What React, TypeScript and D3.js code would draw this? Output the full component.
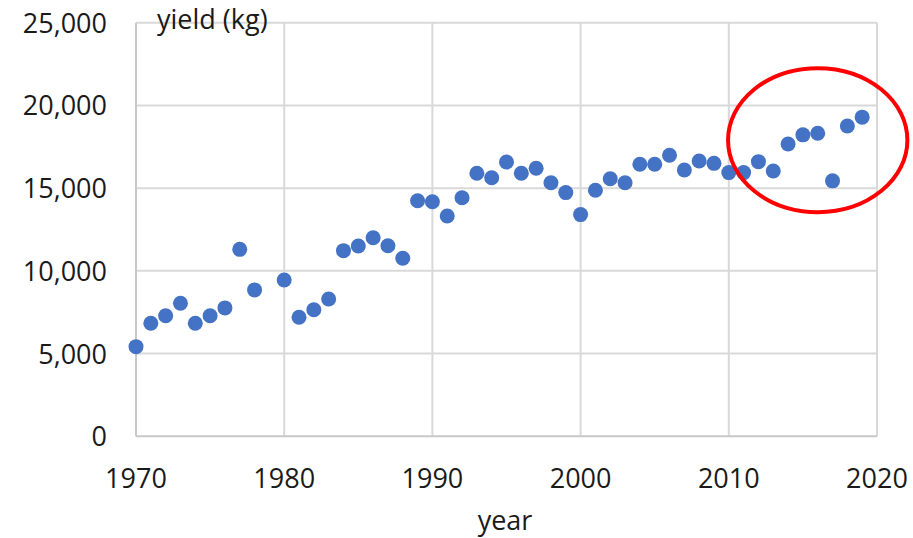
import { useEffect, useRef } from 'react'
import * as d3 from 'd3'

// yields (1979 has no point)
const years = [
  1970, 1971, 1972, 1973, 1974, 1975, 1976, 1977, 1978,
  1980, 1981, 1982, 1983, 1984, 1985, 1986, 1987, 1988, 1989,
  1990, 1991, 1992, 1993, 1994, 1995, 1996, 1997, 1998, 1999,
  2000, 2001, 2002, 2003, 2004, 2005, 2006, 2007, 2008, 2009,
  2010, 2011, 2012, 2013, 2014, 2015, 2016, 2017, 2018, 2019,
]
const yields = [
  5420, 6830, 7290, 8040, 6830, 7290, 7760, 11300, 8850,
  9450, 7200, 7650, 8300, 11220, 11500, 12000, 11520, 10760, 14240,
  14180, 13320, 14420, 15900, 15630, 16580, 15900, 16200, 15330, 14730,
  13400, 14870, 15570, 15330, 16440, 16440, 16990, 16100, 16640, 16500,
  15940, 15940, 16600, 16040, 17670, 18220, 18320, 15440, 18760, 19290,
]
const xTicks = [1970, 1980, 1990, 2000, 2010, 2020]
const yTicks = [0, 5000, 10000, 15000, 20000, 25000]

// red ring around the recent years, in data units
const ringCenter = { year: 2016, value: 17900 }
const ringRadius = { years: 6.05, value: 4350 }

export default function App() {
  const svgRef = useRef<SVGSVGElement>(null)

  useEffect(() => {
    if (!svgRef.current) return
    const svg = d3.select(svgRef.current)
    svg.selectAll('*').remove()

    const font = "'Open Sans', 'Noto Sans', sans-serif"
    const left = 136
    const right = 877
    const top = 22.7
    const bottom = 436.3

    const x = d3.scaleLinear().domain([1970, 2020]).range([left, right])
    const y = d3.scaleLinear().domain([0, 25000]).range([bottom, top])

    const g = svg.append('g')

    // gridlines
    g.selectAll('.hgrid')
      .data(yTicks.slice(1))
      .enter().append('line')
      .attr('x1', left).attr('x2', right)
      .attr('y1', d => y(d)).attr('y2', d => y(d))
      .attr('stroke', '#d9d9d9')
      .attr('stroke-width', 2)

    g.selectAll('.vgrid')
      .data(xTicks.slice(1))
      .enter().append('line')
      .attr('y1', top).attr('y2', bottom)
      .attr('x1', d => x(d)).attr('x2', d => x(d))
      .attr('stroke', '#d9d9d9')
      .attr('stroke-width', 2)

    // axes lines
    g.append('line')
      .attr('x1', left).attr('x2', right)
      .attr('y1', bottom).attr('y2', bottom)
      .attr('stroke', '#c8c8c8').attr('stroke-width', 2)
    g.append('line')
      .attr('x1', left).attr('x2', left)
      .attr('y1', top).attr('y2', bottom)
      .attr('stroke', '#c8c8c8').attr('stroke-width', 2)

    // tick labels
    g.selectAll('.ylab')
      .data(yTicks)
      .enter().append('text')
      .attr('x', 107)
      .attr('y', d => y(d) + 10)
      .attr('text-anchor', 'end')
      .style('font-family', font)
      .style('font-size', '27px')
      .style('fill', '#1a1a1a')
      .text(d => d3.format(',')(d))

    g.selectAll('.xlab')
      .data(xTicks)
      .enter().append('text')
      .attr('x', d => x(d))
      .attr('y', 488)
      .attr('text-anchor', 'middle')
      .style('font-family', font)
      .style('font-size', '27px')
      .style('fill', '#1a1a1a')
      .text(d => String(d))

    // axis titles
    g.append('text')
      .attr('x', 505)
      .attr('y', 530)
      .attr('text-anchor', 'middle')
      .style('font-family', font)
      .style('font-size', '27px')
      .style('fill', '#1a1a1a')
      .text('year')

    g.append('text')
      .attr('x', 157)
      .attr('y', 29)
      .style('font-family', font)
      .style('font-size', '27px')
      .style('fill', '#1a1a1a')
      .text('yield (kg)')

    // points
    g.selectAll('.dot')
      .data(years.map((yr, i) => ({ yr, v: yields[i] })))
      .enter().append('circle')
      .attr('cx', d => x(d.yr))
      .attr('cy', d => y(d.v))
      .attr('r', 7.5)
      .attr('fill', '#4472c4')

    // annotation ring
    g.append('ellipse')
      .attr('cx', x(ringCenter.year))
      .attr('cy', y(ringCenter.value))
      .attr('rx', x(ringCenter.year + ringRadius.years) - x(ringCenter.year))
      .attr('ry', y(ringCenter.value - ringRadius.value) - y(ringCenter.value))
      .attr('fill', 'none')
      .attr('stroke', '#ff0000')
      .attr('stroke-width', 4)
  }, [])

  return (
    <svg
      ref={svgRef}
      width={913}
      height={538}
      style={{ position: 'absolute', left: 0, top: 0, background: '#fff' }}
    />
  )
}
